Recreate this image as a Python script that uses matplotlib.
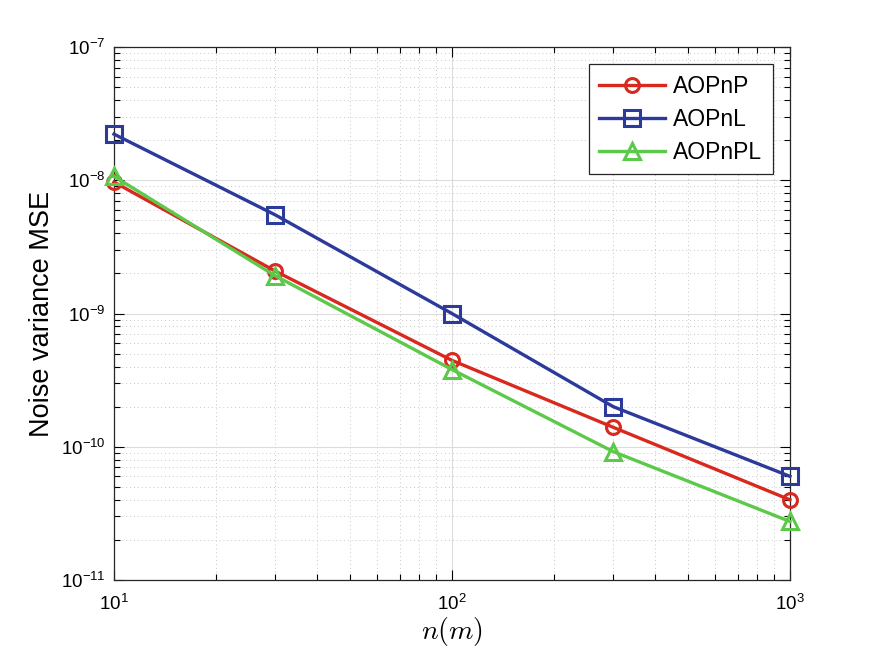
import numpy as np
from matplotlib import pyplot as plt
from matplotlib.ticker import LogLocator, NullFormatter

plt.rcParams['font.family'] = ['Liberation Sans', 'DejaVu Sans']
plt.rcParams['mathtext.fontset'] = 'cm'

# data
n_points = [10, 30, 100, 300, 1000]
mse_aopnp = [9.7e-9, 2.08e-9, 4.45e-10, 1.40e-10, 4.0e-11]
mse_aopnl = [2.22e-8, 5.5e-9, 1.0e-9, 2.0e-10, 6.0e-11]
mse_aopnpl = [1.07e-8, 1.92e-9, 3.8e-10, 9.2e-11, 2.75e-11]
labels = ["AOPnP", "AOPnL", "AOPnPL"]

fig = plt.figure(figsize=(8.72, 6.54), dpi=100)
ax = fig.add_axes([0.1307, 0.1131, 0.7752, 0.815])

ax.loglog(n_points, mse_aopnp, '-o', color='#D9281E', lw=2.4, ms=10,
          mfc='none', mew=2.2, label=labels[0], clip_on=False, zorder=4)
ax.loglog(n_points, mse_aopnl, '-s', color='#2B3A9B', lw=2.4, ms=11,
          mfc='none', mew=2.2, label=labels[1], clip_on=False, zorder=4)
ax.loglog(n_points, mse_aopnpl, '-^', color='#5DC94A', lw=2.4, ms=11,
          mfc='none', mew=2.2, label=labels[2], clip_on=False, zorder=4)

ax.set_xlim(10, 1000)
ax.set_ylim(1e-11, 1e-7)
ax.yaxis.set_major_locator(LogLocator(base=10, numticks=10))
ax.yaxis.set_minor_locator(LogLocator(base=10, subs=np.arange(2, 10), numticks=20))
ax.yaxis.set_minor_formatter(NullFormatter())
ax.xaxis.set_minor_formatter(NullFormatter())

ax.grid(True, which='major', color='#dcdcdc', lw=0.8, ls='-')
ax.grid(True, which='minor', color='#c8c8c8', lw=0.7, ls=(0, (1, 3)))
ax.set_axisbelow(True)

ax.tick_params(which='both', direction='in', top=True, right=True,
               labelsize=13.5, width=0.8)
ax.tick_params(which='major', length=7)
ax.tick_params(which='minor', length=4)
ax.tick_params(axis='x', which='major', pad=10)
ax.tick_params(axis='y', which='major', pad=6)
for s in ax.spines.values():
    s.set_linewidth(0.9)
    s.set_color('#262626')

ax.set_xlabel(r'$n(m)$', fontsize=20, labelpad=1)
ax.set_ylabel('Noise variance MSE', fontsize=19.5, labelpad=4)

leg = ax.legend(loc='upper right', fontsize=16.5, fancybox=False, framealpha=1,
                edgecolor='#262626', handlelength=2.9, borderaxespad=0.75,
                labelspacing=0.45, handletextpad=0.35, borderpad=0.45)
leg.get_frame().set_linewidth(0.9)

fig.savefig('out.png', dpi=100)
